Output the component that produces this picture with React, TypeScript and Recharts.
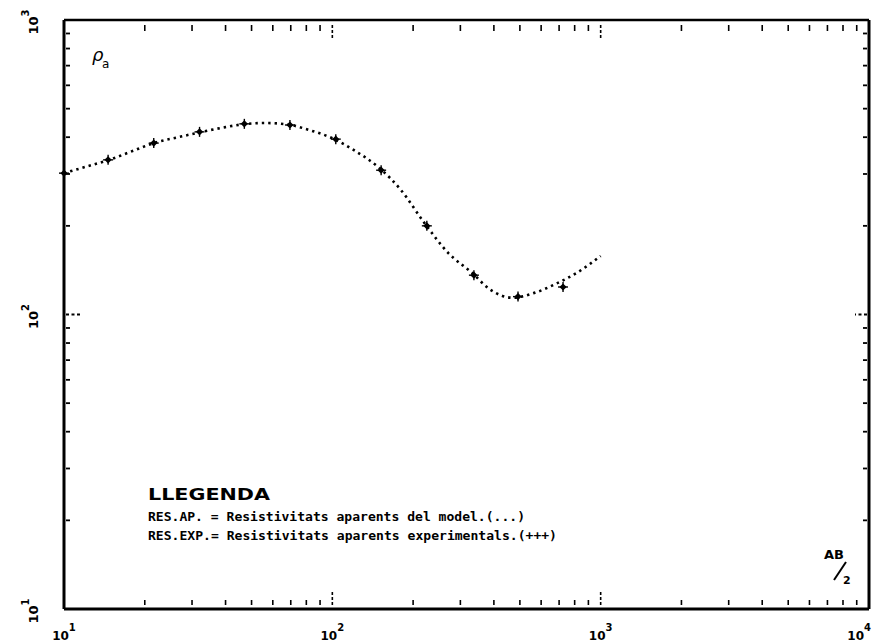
import React from 'react';
import { ComposedChart, Line, XAxis, YAxis } from 'recharts';

// AB/2 (m) and apparent resistivity (ohm·m)
const modelAB = [10, 12, 15, 18, 22, 27, 33, 39, 47, 56, 68, 82, 100, 120, 150, 180, 220, 270, 330, 390, 470, 560, 680, 820, 1000];
const modelRho = [302, 317, 337, 359, 384, 401, 418, 431, 443, 447, 442, 423, 397, 362, 314, 265, 205, 162, 139, 121, 114, 118, 127, 139, 158];

const expAB = [10, 14.6, 21.6, 32, 47, 69.5, 103, 152, 225, 337, 492, 724];
const expRho = [302, 335, 382, 417, 444, 440, 394, 309, 200, 136, 115, 124];

const xDecades = [10, 100, 1000, 10000];
const yDecades = [10, 100, 1000];
const minorSteps = [1, 2, 3, 4, 5, 6, 7, 8, 9];

const legendTitle = 'LLEGENDA';
const legendLines = [
  'RES.AP. = Resistivitats aparents del model.(...)',
  'RES.EXP.= Resistivitats aparents experimentals.(+++)',
];

const model = modelAB.map((ab, i) => ({ ab, rho: modelRho[i] }));
const experimental = expAB.map((ab, i) => ({ ab, rho: expRho[i] }));

const buildTicks = (decades: number[]) => {
  const out: number[] = [];
  decades.forEach((d, i) => {
    if (i === decades.length - 1) {
      out.push(d);
      return;
    }
    minorSteps.forEach((m) => out.push(d * m));
  });
  return out;
};

const xTicks = buildTicks(xDecades);
const yTicks = buildTicks(yDecades);

const isDecade = (v: number) => Math.abs(Math.log10(v) - Math.round(Math.log10(v))) < 1e-6;
const expOf = (v: number) => Math.round(Math.log10(v));

const labelFont = '"DejaVu Sans", sans-serif';

const BottomTick = (props: any) => {
  const { x, y, payload } = props;
  const major = isDecade(payload.value);
  const last = payload.value === xDecades[xDecades.length - 1];
  return (
    <g>
      <line
        x1={x} x2={x} y1={y - 4} y2={major ? y - 19 : y - 9}
        stroke="#000" strokeWidth={1.6}
        strokeDasharray={major ? '3 2' : undefined}
      />
      {major && (
        <text
          x={last ? x + 2 : x} y={y + 31} textAnchor={last ? 'end' : 'middle'}
          fontFamily={labelFont} fontWeight="bold" fontSize={12} fill="#000"
        >
          10<tspan dy={-9} fontSize={10}>{expOf(payload.value)}</tspan>
        </text>
      )}
    </g>
  );
};

const TopTick = (props: any) => {
  const { x, y, payload } = props;
  const major = isDecade(payload.value);
  return (
    <line
      x1={x} x2={x} y1={y + 5} y2={major ? y + 19 : y + 11}
      stroke="#000" strokeWidth={1.6}
      strokeDasharray={major ? '3 2' : undefined}
    />
  );
};

const LeftTick = (props: any) => {
  const { x, y, payload } = props;
  const major = isDecade(payload.value);
  return (
    <g>
      <line
        x1={x + 2} x2={major ? x + 17 : x + 6} y1={y} y2={y}
        stroke="#000" strokeWidth={1.8}
        strokeDasharray={major ? '3 2.5' : undefined}
      />
      {major && (
        <text
          x={38} y={y + 2}
          transform={`rotate(-90 38 ${y + 2})`}
          textAnchor="middle" fontFamily={labelFont} fontWeight="bold" fontSize={13} fill="#000"
        >
          10<tspan dy={-9} fontSize={10}>{expOf(payload.value)}</tspan>
        </text>
      )}
    </g>
  );
};

const RightTick = (props: any) => {
  const { x, y, payload } = props;
  const major = isDecade(payload.value);
  return (
    <line
      x1={x - 2} x2={major ? x - 14 : x - 6} y1={y} y2={y}
      stroke="#000" strokeWidth={1.8}
      strokeDasharray={major ? '3 2.5' : undefined}
    />
  );
};

const Diamond = (props: any) => {
  const { cx, cy, index } = props;
  if (cx == null || cy == null) return <g key={index} />;
  const r = 3.6;
  return (
    <g key={index}>
      <polygon points={`${cx},${cy - r} ${cx + r},${cy} ${cx},${cy + r} ${cx - r},${cy}`} fill="#000" />
      <line x1={cx - 5} x2={cx + 5} y1={cy} y2={cy} stroke="#000" strokeWidth={1.4} />
      <line x1={cx} x2={cx} y1={cy - 5} y2={cy + 5} stroke="#000" strokeWidth={1.4} />
    </g>
  );
};

export default function App() {
  return (
    <div style={{ position: 'absolute', left: 0, top: 0, width: 873, height: 642, background: '#fff' }}>
      <ComposedChart width={873} height={642} margin={{ top: 19, right: 3, bottom: 32, left: 63 }}>
        <XAxis
          xAxisId="b" dataKey="ab" type="number" scale="log" domain={[10, 10000]}
          ticks={xTicks} interval={0} height={1} tickSize={0} tickMargin={0}
          axisLine={{ stroke: '#000', strokeWidth: 3 }} tickLine={false} tick={<BottomTick />}
        />
        <XAxis
          xAxisId="t" orientation="top" dataKey="ab" type="number" scale="log" domain={[10, 10000]}
          allowDataOverflow ticks={xTicks} interval={0} height={1} tickSize={0} tickMargin={0}
          axisLine={{ stroke: '#000', strokeWidth: 2.5 }} tickLine={false} tick={<TopTick />}
        />
        <YAxis
          yAxisId="l" type="number" scale="log" domain={[10, 1000]}
          ticks={yTicks} interval={0} width={1} tickSize={0} tickMargin={0}
          axisLine={{ stroke: '#000', strokeWidth: 3 }} tickLine={false} tick={<LeftTick />}
        />
        <YAxis
          yAxisId="r" orientation="right" type="number" scale="log" domain={[10, 1000]}
          allowDataOverflow ticks={yTicks} interval={0} width={1} tickSize={0} tickMargin={0}
          axisLine={{ stroke: '#000', strokeWidth: 3 }} tickLine={false} tick={<RightTick />}
        />
        <Line
          xAxisId="b" yAxisId="l" data={model} dataKey="rho" type="monotone"
          stroke="#000" strokeWidth={2.6} strokeDasharray="2.4 4" dot={false}
          isAnimationActive={false}
        />
        <Line
          xAxisId="b" yAxisId="l" data={experimental} dataKey="rho"
          stroke="none" dot={<Diamond />} activeDot={false}
          isAnimationActive={false}
        />
      </ComposedChart>
      <svg width={873} height={642} style={{ position: 'absolute', left: 0, top: 0, pointerEvents: 'none' }}>
        <text x={92} y={61} fontFamily={labelFont} fontStyle="italic" fontSize={18} fill="#000">ρ</text>
        <text x={102} y={68} fontFamily={labelFont} fontSize={12} fill="#000">a</text>

        <text x={148} y={500} fontFamily={labelFont} fontWeight="bold" fontSize={16} fill="#000"
          textLength={122} lengthAdjust="spacingAndGlyphs">{legendTitle}</text>
        <text x={148} y={521} fontFamily='"DejaVu Sans Mono", monospace' fontWeight="bold" fontSize={12.5} fill="#000"
          textLength={377} lengthAdjust="spacingAndGlyphs">{legendLines[0]}</text>
        <text x={148} y={540} fontFamily='"DejaVu Sans Mono", monospace' fontWeight="bold" fontSize={12.5} fill="#000"
          textLength={409} lengthAdjust="spacingAndGlyphs">{legendLines[1]}</text>

        <text x={824} y={559} fontFamily={labelFont} fontWeight="bold" fontSize={13} fill="#000">AB</text>
        <line x1={834} y1={580} x2={846} y2={562} stroke="#000" strokeWidth={2} />
        <text x={843} y={584} fontFamily={labelFont} fontWeight="bold" fontSize={11} fill="#000">2</text>
      </svg>
    </div>
  );
}
